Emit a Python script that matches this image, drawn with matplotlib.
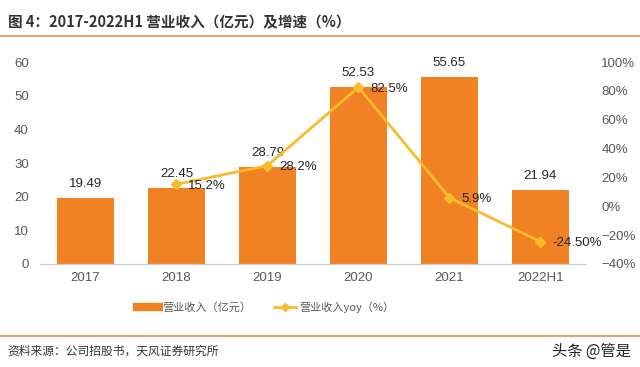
import matplotlib
matplotlib.use("Agg")
import matplotlib.pyplot as plt
from matplotlib.lines import Line2D
from matplotlib.ticker import PercentFormatter

plt.rcParams['font.family'] = ['Liberation Sans', 'Noto Sans CJK SC', 'DejaVu Sans']

# ── data ─────────────────────────────────────────────
years = ["2017", "2018", "2019", "2020", "2021", "2022H1"]
revenue = [19.49, 22.45, 28.79, 52.53, 55.65, 21.94]
yoy_years = ["2018", "2019", "2020", "2021", "2022H1"]
yoy = [15.2, 28.2, 82.5, 5.9, -24.5]
yoy_labels = ["15.2%", "28.2%", "82.5%", "5.9%", "-24.50%"]

BAR_C = "#F08223"
LINE_C = "#F7BB2C"
TXT_C = "#595959"
RULE_C = "#E9924E"
CJK = ['Noto Sans CJK SC', 'DejaVu Sans']

fig = plt.figure(figsize=(6.4, 3.67), dpi=100)
ax = fig.add_axes([0.0625, 0.2807, 0.853, 0.5503])
ax2 = ax.twinx()

x = list(range(len(years)))
ax.bar(x, revenue, width=0.62, color=BAR_C, zorder=2)
for xi, v in zip(x, revenue):
    ax.text(xi, v + 2.4, f"{v:.2f}", ha="center", va="bottom", fontsize=9.5,
            color="#262626")

yx = [years.index(y) for y in yoy_years]
ax2.plot(yx, yoy, color=LINE_C, lw=2, marker="D", ms=5, zorder=3)
for xi, v, lab in zip(yx, yoy, yoy_labels):
    ax2.text(xi + 0.13, v - 1, lab, ha="left", va="center", fontsize=9.5,
             color="#262626")

ax.set_xlim(-0.5, len(years) - 0.5)
ax.set_ylim(0, 60)
ax.set_yticks(range(0, 61, 10))
ax2.set_ylim(-40, 100)
ax2.set_yticks(range(-40, 101, 20))
ax2.yaxis.set_major_formatter(PercentFormatter(decimals=0))
ax.set_xticks(x)
ax.set_xticklabels(years)

for a in (ax, ax2):
    for s in ("top", "left", "right"):
        a.spines[s].set_visible(False)
    a.spines["bottom"].set_color("#C7CEDB")
    a.tick_params(length=0, labelsize=9.5, labelcolor=TXT_C)
ax.tick_params(axis="y", pad=8)
ax.tick_params(axis="x", pad=6)
ax2.tick_params(axis="y", pad=11)

# legend
handles = [Line2D([0], [0], color=BAR_C, lw=6),
           Line2D([0], [0], color=LINE_C, lw=2, marker="D", ms=4)]
fig.legend(handles, ["营业收入（亿元）", "营业收入yoy（%）"], loc="center",
           bbox_to_anchor=(0.415, 0.163), ncol=2, frameon=False,
           prop={"family": CJK, "size": 8},
           labelcolor=TXT_C, handlelength=2.0, handletextpad=0.3,
           columnspacing=2.0)

# title, rules, source
fig.text(0.012, 0.94, "图 4：2017-2022H1 营业收入（亿元）及增速（%）", fontsize=10.5,
         color="#333333", fontweight="bold", va="center", family=CJK)
fig.add_artist(Line2D([0, 1], [0.902, 0.902], color=RULE_C, lw=1.2))
fig.add_artist(Line2D([0, 1], [0.085, 0.085], color=RULE_C, lw=1.2))
fig.text(0.012, 0.043, "资料来源：公司招股书，天风证券研究所", fontsize=8.5,
         color="#333333", va="center", family=CJK)
fig.text(0.985, 0.043, "头条 @管是", fontsize=11, color="#222222",
         va="center", ha="right", family=CJK)

fig.savefig("out.png", dpi=100)
